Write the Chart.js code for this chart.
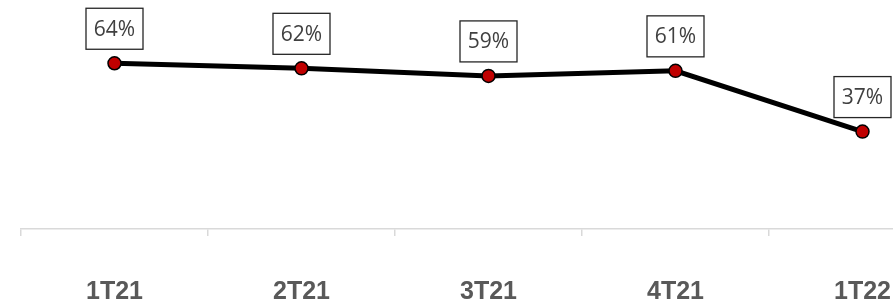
<!DOCTYPE html>
<html>
<head>
<meta charset="utf-8">
<script src="https://cdn.jsdelivr.net/npm/chart.js@4/dist/chart.umd.min.js"></script>
<style>
  html, body { margin: 0; padding: 0; background: #fff; overflow: hidden; }
  canvas { display: block; }
</style>
</head>
<body>
<canvas id="grafico" width="956" height="363"></canvas>
<script>
const trimestres = ['1T21', '2T21', '3T21', '4T21', '1T22'];
const percentuais = [64, 62, 59, 61, 37];
const rotulos = ['64%', '62%', '59%', '61%', '37%'];

// caixinhas com o valor acima de cada ponto
const caixasValores = {
    id: 'caixasValores',
    afterDatasetsDraw(chart) {
        const ctx = chart.ctx;
        const pontos = chart.getDatasetMeta(0).data;
        ctx.save();
        ctx.font = '21px "Open Sans", "Noto Sans", sans-serif';
        ctx.textAlign = 'center';
        ctx.textBaseline = 'middle';
        pontos.forEach((p, i) => {
            const w = 57, h = 41;
            const x = p.x - w / 2, y = p.y - 14 - h;
            ctx.fillStyle = '#fff';
            ctx.fillRect(x, y, w, h);
            ctx.strokeStyle = '#262626';
            ctx.lineWidth = 1.3;
            ctx.strokeRect(x, y, w, h);
            ctx.fillStyle = '#404040';
            ctx.fillText(rotulos[i], p.x, y + h / 2 + 1);
        });
        ctx.restore();
    }
};

new Chart(document.getElementById('grafico'), {
    type: 'line',
    data: {
        labels: trimestres,
        datasets: [{
            data: percentuais,
            borderColor: '#000',
            borderWidth: 5,
            tension: 0,
            pointRadius: 6.5,
            pointBackgroundColor: '#C00000',
            pointBorderColor: '#000',
            pointBorderWidth: 1.5,
            clip: false
        }]
    },
    options: {
        responsive: false,
        animation: false,
        layout: { autoPadding: false, padding: { left: 21, right: 0, top: 0, bottom: 15 } },
        plugins: { legend: { display: false }, tooltip: { enabled: false } },
        scales: {
            x: {
                offset: true,
                border: { color: '#d9d9d9', width: 1.5 },
                grid: { offset: true, drawOnChartArea: false, tickLength: 7, color: '#d9d9d9', lineWidth: 1.5 },
                ticks: {
                    padding: 41,
                    color: '#595959',
                    font: { family: '"Liberation Sans", Arial, sans-serif', size: 25, weight: 'bold' },
                    maxRotation: 0
                }
            },
            y: { display: false, min: -1.5, max: 89 }
        }
    },
    plugins: [caixasValores]
});
</script>
</body>
</html>
